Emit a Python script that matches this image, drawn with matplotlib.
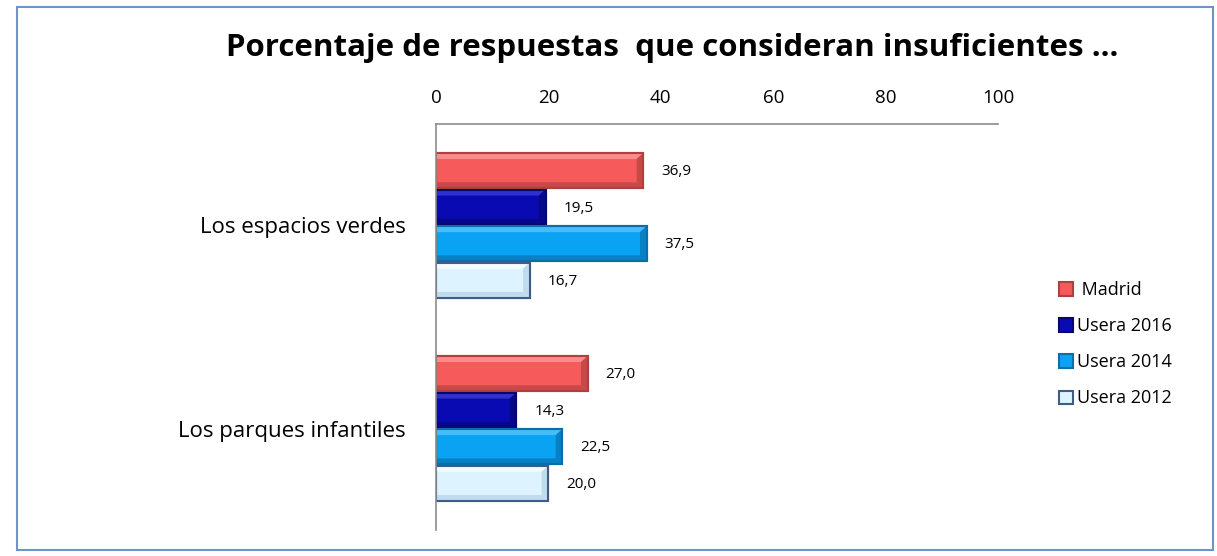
import matplotlib
matplotlib.use("Agg")
import matplotlib.pyplot as plt
from matplotlib.patches import Rectangle, Polygon
import numpy as np

plt.rcParams['font.family'] = ['Open Sans', 'DejaVu Sans']

categories = ["Los espacios verdes", "Los parques infantiles"]
series = [" Madrid", "Usera 2016", "Usera 2014", "Usera 2012"]
madrid = [36.9, 27.0]
usera_2016 = [19.5, 14.3]
usera_2014 = [37.5, 22.5]
usera_2012 = [16.7, 20.0]
values = [madrid, usera_2016, usera_2014, usera_2012]
xticks = [0, 20, 40, 60, 80, 100]

face_colors = ["#F65A5A", "#0A0AB2", "#0AA2F2", "#DDF3FF"]
light_colors = ["#FA8C8C", "#3030D0", "#45BDF8", "#F4FBFF"]
dark_colors = ["#C94848", "#07078A", "#0880C4", "#BFDCEF"]
edge_colors = ["#B04040", "#06066E", "#0A6EA8", "#3E5C86"]

W, H = 1217, 556
fig = plt.figure(figsize=(W / 100, H / 100), dpi=100)

# outer border
fig.patches.append(Rectangle((17 / W, 1 - 550 / H), (1213 - 17) / W, (550 - 7) / H,
                             transform=fig.transFigure, fill=False,
                             edgecolor="#6D93C9", linewidth=1.5))

ax = fig.add_axes([436 / W, 1 - 530 / H, (998 - 436) / W, (530 - 124) / H])
ax.set_xlim(0, 100)
ax.set_ylim(1.5, -0.5)

bar_h = 0.18
bx, by = 1.2, 0.03  # bevel size in data units
y = np.arange(len(categories))
for i, (name, vals) in enumerate(zip(series, values)):
    off = (i - 1.5) * bar_h
    bars = ax.barh(y + off, vals, height=bar_h * 0.97, color=face_colors[i],
                   edgecolor=edge_colors[i], linewidth=1.5, label=name, zorder=2)
    for b, v in zip(bars, vals):
        x0, y0, w, h = b.get_x(), b.get_y(), b.get_width(), b.get_height()
        x1, y1 = x0 + w, y0 + h
        # y axis inverted: y0 is visually top
        top = Polygon([(x0, y0), (x1, y0), (x1 - bx, y0 + by), (x0, y0 + by)],
                      closed=True, facecolor=light_colors[i], edgecolor="none", zorder=3)
        bot = Polygon([(x0, y1), (x1, y1), (x1 - bx, y1 - by), (x0, y1 - by)],
                      closed=True, facecolor=dark_colors[i], edgecolor="none", zorder=3)
        right = Polygon([(x1, y0), (x1, y1), (x1 - bx, y1 - by), (x1 - bx, y0 + by)],
                        closed=True, facecolor=dark_colors[i], edgecolor="none", zorder=3)
        for p in (top, bot, right):
            ax.add_patch(p)
        ax.add_patch(Rectangle((x0, y0), w, h, fill=False, edgecolor=edge_colors[i],
                               linewidth=1.5, zorder=4))
        ax.text(v + 3.2, y0 + h / 2 + 0.005,
                f"{v:.1f}".replace(".", ","), va="center", ha="left",
                fontsize=11, color="#000000")

ax.xaxis.tick_top()
ax.set_xticks(xticks)
ax.set_xticklabels([str(t) for t in xticks], fontsize=13.5)
ax.tick_params(axis='x', length=0, pad=12)
ax.set_yticks(y)
ax.set_yticklabels(categories, fontsize=16)
ax.tick_params(axis='y', length=0, pad=22)
for s in ["right", "bottom"]:
    ax.spines[s].set_visible(False)
ax.spines["top"].set_color("#8C8C8C")
ax.spines["left"].set_color("#8C8C8C")
ax.spines["top"].set_linewidth(1.2)
ax.spines["left"].set_linewidth(1.2)
ax.spines["left"].set_zorder(5)

fig.text(672 / W, 1 - 48 / H, "Porcentaje de respuestas  que consideran insuficientes ...",
         ha="center", va="center", fontsize=22.5, fontweight="bold")

leg = fig.legend(loc="upper left", bbox_to_anchor=(1043 / W, 1 - 265 / H),
                 frameon=False, fontsize=13, handlelength=0.75, handleheight=0.75,
                 handletextpad=0.25, labelspacing=1.0)

fig.savefig("out.png", dpi=100)
